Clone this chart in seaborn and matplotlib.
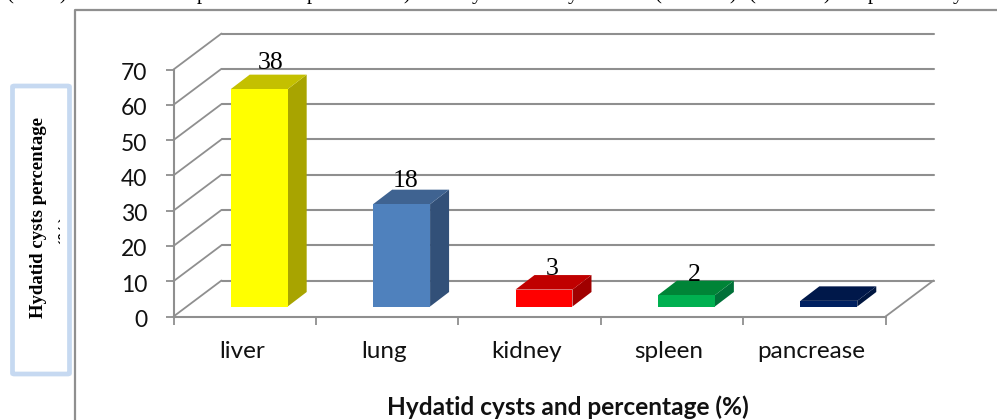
import matplotlib
matplotlib.use("Agg")
import matplotlib.pyplot as plt
from matplotlib.patches import Polygon, FancyBboxPatch, Rectangle
from matplotlib.lines import Line2D
from matplotlib.transforms import Affine2D
import pandas as pd
import seaborn as sns

organs = ["liver", "lung", "kidney", "spleen", "pancrease"]
percentages = [61.6, 29.0, 4.8, 3.2, 1.6]
value_labels = ["38", "18", "3", "2", ""]
front_colors = ["#ffff00", "#4f81bd", "#ff0000", "#00b050", "#002060"]
top_colors = ["#c4c000", "#3f6391", "#c00000", "#008437", "#00184a"]
side_colors = ["#a8a400", "#325078", "#a00000", "#007038", "#001640"]
y_ticks = [0, 10, 20, 30, 40, 50, 60, 70]
x_title = "Hydatid cysts and percentage (%)"
y_title = "Hydatid cysts percentage"
y_title_clipped = "(%)"
# descender fragments of the cropped sentence above the chart: (pixel x, glyph)
cropped_glyphs = [(10, "("), (63, ")"), (202, "p"), (312, "p"), (407, ")"), (477, "y"),
                  (573, "y"), (658, "("), (733, ")"), (752, "("), (827, ")"), (873, "p"), (958, "y")]

W, H = 997, 420
GRAY = "#8f8f8f"
SANS = "Lato"
SERIF = "Liberation Serif"

sns.set_theme(style="white")
plt.rcParams["font.family"] = [SANS, "DejaVu Sans"]

fig = plt.figure(figsize=(W / 100, H / 100), dpi=100, facecolor="white")
L, R, T, B = 173.5, 885.5, 69.5, 316.5
ax = fig.add_axes([L / W, 1 - B / H, (R - L) / W, (B - T) / H])
ax.patch.set_alpha(0)


def shift(dx, dy):
    """data transform moved by dx, dy pixels (dy measured upward)"""
    return ax.transData + Affine2D().translate(dx, dy)


# outer frame of the embedded picture
fig.add_artist(Line2D([74.5 / W, 74.5 / W, 1], [0, 1 - 9.5 / H, 1 - 9.5 / H], color=GRAY, lw=1.6))

df = pd.DataFrame({"organ": organs, "pct": percentages})
sns.barplot(data=df, x="organ", y="pct", hue="organ", palette=front_colors, order=organs,
            hue_order=organs, width=0.4, dodge=False, saturation=1, legend=False, ax=ax, zorder=4)
ax.set_xlim(-0.5, len(organs) - 0.5)
ax.set_ylim(0, 70)

# back wall, side wall and floor
WALL_X, WALL_Y = 48, 36
for v in y_ticks:
    ax.plot([-0.5, len(organs) - 0.5], [v, v], color=GRAY, lw=1.5, transform=shift(WALL_X, WALL_Y),
            zorder=1, clip_on=False)
    x0, y0 = ax.transData.transform((-0.5, v))
    fig.add_artist(Line2D([x0, x0 + WALL_X], [y0, y0 + WALL_Y], color=GRAY, lw=1.3,
                          transform=None, zorder=0.5))
x1, y1 = ax.transData.transform((len(organs) - 0.5, 0))
fig.add_artist(Line2D([x1, x1 + WALL_X], [y1, y1 + WALL_Y], color=GRAY, lw=1.3, transform=None, zorder=0.5))

# 3-D faces built from the bars seaborn drew
OFF_X, OFF_Y = 14.5, 10
DX, DY = 19, 14.5
LABEL_DX = [11, 4, 8, 8, 0]
LABEL_DY = [6, 3, 0, 0, 0]
to_px = ax.transData
for i, bar in enumerate(ax.patches):
    bar.set_transform(shift(OFF_X, OFF_Y))
    bar.set_edgecolor("none")
    bar.set_clip_on(False)
    (xa, ya), (xb, yb) = to_px.transform(
        [(bar.get_x(), 0), (bar.get_x() + bar.get_width(), bar.get_height())])
    xa, xb, ya, yb = xa + OFF_X, xb + OFF_X, ya + OFF_Y, yb + OFF_Y
    ax.add_patch(Polygon([(xb, ya), (xb + DX, ya + DY), (xb + DX, yb + DY), (xb, yb)],
                         closed=True, fc=side_colors[i], ec="none", transform=None, zorder=3, clip_on=False))
    ax.add_patch(Polygon([(xa, yb), (xa + DX, yb + DY), (xb + DX, yb + DY), (xb, yb)],
                         closed=True, fc=top_colors[i], ec="none", transform=None, zorder=3, clip_on=False))
    if value_labels[i]:
        ax.text((xa + xb) / 2 + LABEL_DX[i], yb + DY + LABEL_DY[i], value_labels[i], transform=None,
                ha="center", va="baseline", family=SERIF, fontsize=18.5, color="black", zorder=6)

# axes
ax.set_xlabel("")
ax.set_ylabel("")
ax.set_yticks(y_ticks)
ax.set_xticks([i - 0.5 for i in range(len(organs) + 1)])
ax.set_xticklabels([])
ax.set_xticks(range(len(organs)), labels=organs, minor=True)
ax.tick_params(axis="x", which="major", length=6, width=1.3, color=GRAY, direction="out", bottom=True)
ax.tick_params(axis="x", which="minor", length=0, pad=18, labelsize=17.5, labelcolor="#111111", bottom=False)
ax.tick_params(axis="y", length=6, width=1.3, color=GRAY, direction="out", left=True, pad=13,
               labelsize=16.5, labelcolor="#111111")
for lab in ax.get_yticklabels():
    lab.set_transform(lab.get_transform() + Affine2D().translate(0, -2))
for lab in ax.get_xticklabels(minor=True):
    lab.set_transform(lab.get_transform() + Affine2D().translate(-3, 0))
sns.despine(ax=ax, top=True, right=True)
for s in ("left", "bottom"):
    ax.spines[s].set_color(GRAY)
    ax.spines[s].set_linewidth(1.5)

fig.text(568 / W, 1 - 407 / H, x_title, ha="center", va="center", family=SANS, fontweight="bold",
         fontsize=17.6, color="#111111")

# axis-title box
box = FancyBboxPatch((12.5 / W, 1 - 374 / H), 57 / W, 288 / H, boxstyle="round,pad=0,rounding_size=0.002",
                     transform=fig.transFigure, fc="white", ec="#c6d9f1", lw=3.4, zorder=2)
fig.add_artist(box)
fig.text(38.5 / W, 1 - 217 / H, y_title, rotation=90, ha="center", va="center", family=SERIF,
         fontweight="bold", fontsize=13.5, color="black", zorder=3)
clipped = fig.text(66 / W, 1 - 230 / H, y_title_clipped, rotation=90, ha="center", va="center", family=SERIF,
                   fontweight="bold", fontsize=13.5, color="black", zorder=3)
clipped.set_clip_path(Rectangle((40, 420 - 260), 20, 60, transform=None))
clipped.set_clip_on(True)

# sentence cropped by the top edge of the picture
for px, glyph in cropped_glyphs:
    fig.text(px / W, 1 + 0.5 / H, glyph, ha="center", va="baseline", family=SERIF, fontsize=15, color="black")

fig.savefig("out.png", dpi=100)
